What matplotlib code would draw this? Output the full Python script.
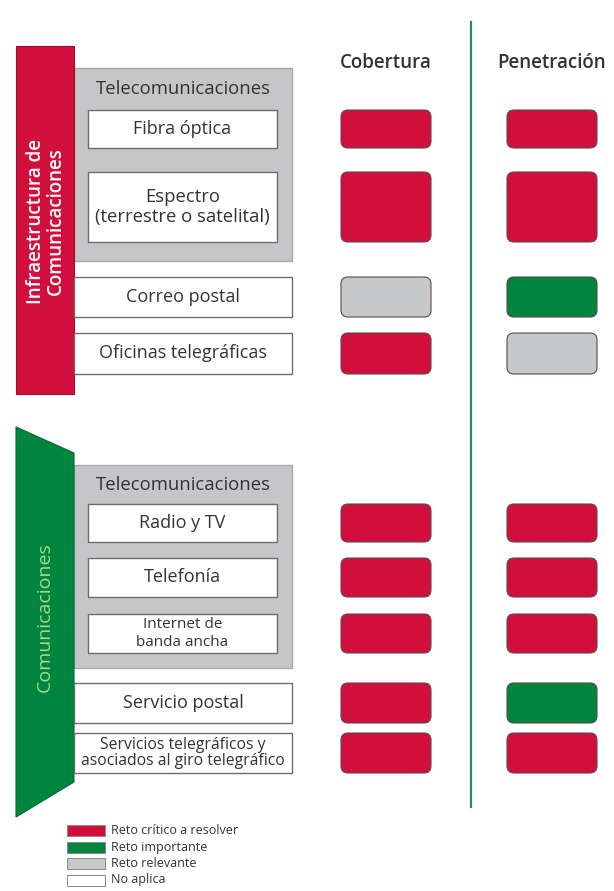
import matplotlib
matplotlib.use("Agg")
import matplotlib.pyplot as plt
from matplotlib.patches import Rectangle, FancyBboxPatch, Polygon

plt.rcParams['font.family'] = ['Open Sans', 'DejaVu Sans']

# data
columns = ["Cobertura", "Penetración"]
infra_title = "Infraestructura de\nComunicaciones"
comm_title = "Comunicaciones"
group_label = "Telecomunicaciones"

infra_rows = ["Fibra óptica", "Espectro\n(terrestre o satelital)", "Correo postal", "Oficinas telegráficas"]
infra_cobertura = ["critico", "critico", "relevante", "critico"]
infra_penetracion = ["critico", "critico", "importante", "relevante"]

comm_rows = ["Radio y TV", "Telefonía", "Internet de\nbanda ancha", "Servicio postal",
             "Servicios telegráficos y\nasociados al giro telegráfico"]
comm_cobertura = ["critico", "critico", "critico", "critico", "critico"]
comm_penetracion = ["critico", "critico", "critico", "importante", "critico"]

legend_keys = ["critico", "importante", "relevante", "no_aplica"]
legend_labels = ["Reto crítico a resolver", "Reto importante", "Reto relevante", "No aplica"]

# layout (pixel coords)
infra_y = [(110, 148), (172, 242), (277, 317), (333, 374)]
infra_in_group = [True, True, False, False]
infra_fs = [13, 13.3, 13, 13]
infra_ls = [1.0, 1.15, 1.0, 1.0]
comm_y = [(504, 542), (558, 597), (614, 653), (683, 723), (733, 773)]
comm_in_group = [True, True, True, False, False]
comm_fs = [13, 13, 11, 13, 11.3]
comm_ls = [1.0, 1.0, 1.2, 1.0, 1.0]
col_x = [(341, 431), (507, 597)]

RED = "#d20f3c"
GREEN = "#00853e"
GRAY = "#c7c8ca"
colors = {"critico": RED, "importante": GREEN, "relevante": GRAY, "no_aplica": "white"}

fig = plt.figure(figsize=(6.14, 8.91), dpi=100)
ax = fig.add_axes([0, 0, 1, 1])
ax.set_xlim(0, 614)
ax.set_ylim(891, 0)
ax.axis("off")


def label_box(x0, x1, y0, y1, text, fs, ls):
    ax.add_patch(Rectangle((x0, y0), x1 - x0, y1 - y0, facecolor="white",
                           edgecolor="#6d6d6d", lw=1.0, zorder=3))
    ax.text((x0 + x1) / 2, (y0 + y1) / 2, text, ha="center", va="center",
            fontsize=fs, color="#333333", zorder=4, linespacing=ls)


def status_box(x0, x1, y0, y1, key):
    ax.add_patch(FancyBboxPatch((x0 + 4, y0 + 4), x1 - x0 - 8, y1 - y0 - 8,
                                boxstyle="round,pad=4,rounding_size=7",
                                facecolor=colors[key], edgecolor="#5a4a4a",
                                lw=0.8, zorder=3))


def section(rows, ys, in_group, sizes, spacings, cob, pen, group_box, group_text_y):
    gx0, gx1, gy0, gy1 = group_box
    ax.add_patch(Rectangle((gx0, gy0), gx1 - gx0, gy1 - gy0, facecolor="#c6c6c8",
                           edgecolor="#a9a9ab", lw=1.0, zorder=1))
    ax.text((gx0 + gx1) / 2, group_text_y, group_label, ha="center", va="center",
            fontsize=13.3, color="#333333", zorder=2)
    for row, (y0, y1), g, fs, ls, c, p in zip(rows, ys, in_group, sizes, spacings, cob, pen):
        if g:
            label_box(88, 277, y0, y1, row, fs, ls)
        else:
            label_box(74, 292, y0, y1, row, fs, ls)
        status_box(col_x[0][0], col_x[0][1], y0, y1, c)
        status_box(col_x[1][0], col_x[1][1], y0, y1, p)


# infra section
ax.add_patch(Rectangle((16, 46), 58, 348, facecolor=RED, edgecolor="#a00a2c", lw=0.8, zorder=2))
ax.text(46, 221, infra_title, rotation=90, ha="center", va="center", color="white",
        fontsize=13.5, fontweight="semibold", linespacing=1.0, zorder=3)
section(infra_rows, infra_y, infra_in_group, infra_fs, infra_ls, infra_cobertura,
        infra_penetracion, (74, 292, 68, 261), 89)

# comunicaciones section
ax.add_patch(Polygon([(16, 427), (74, 453), (74, 782), (16, 817)], closed=True,
                     facecolor=GREEN, edgecolor="#006a30", lw=0.8, zorder=2))
ax.text(45, 617, comm_title, rotation=90, ha="center", va="center", color="#a9d78f",
        fontsize=14, zorder=3)
section(comm_rows, comm_y, comm_in_group, comm_fs, comm_ls, comm_cobertura,
        comm_penetracion, (74, 292, 465, 668), 485)

# headers and divider
for (x0, x1), name in zip(col_x, columns):
    ax.text((x0 + x1) / 2, 63, name, ha="center", va="center", fontsize=13.5,
            fontweight="semibold", color="#333333")
ax.plot([471, 471], [22, 807], color="#2e8b4f", lw=1.6, zorder=1)

# legend
for i, (key, lab) in enumerate(zip(legend_keys, legend_labels)):
    y = 825 + i * 16.5
    ax.add_patch(Rectangle((67, y), 38, 11, facecolor=colors[key],
                           edgecolor="#8a8a8a", lw=0.7))
    ax.text(111, y + 5.5, lab, ha="left", va="center", fontsize=9, color="#333333")

fig.savefig("out.png", dpi=100)
